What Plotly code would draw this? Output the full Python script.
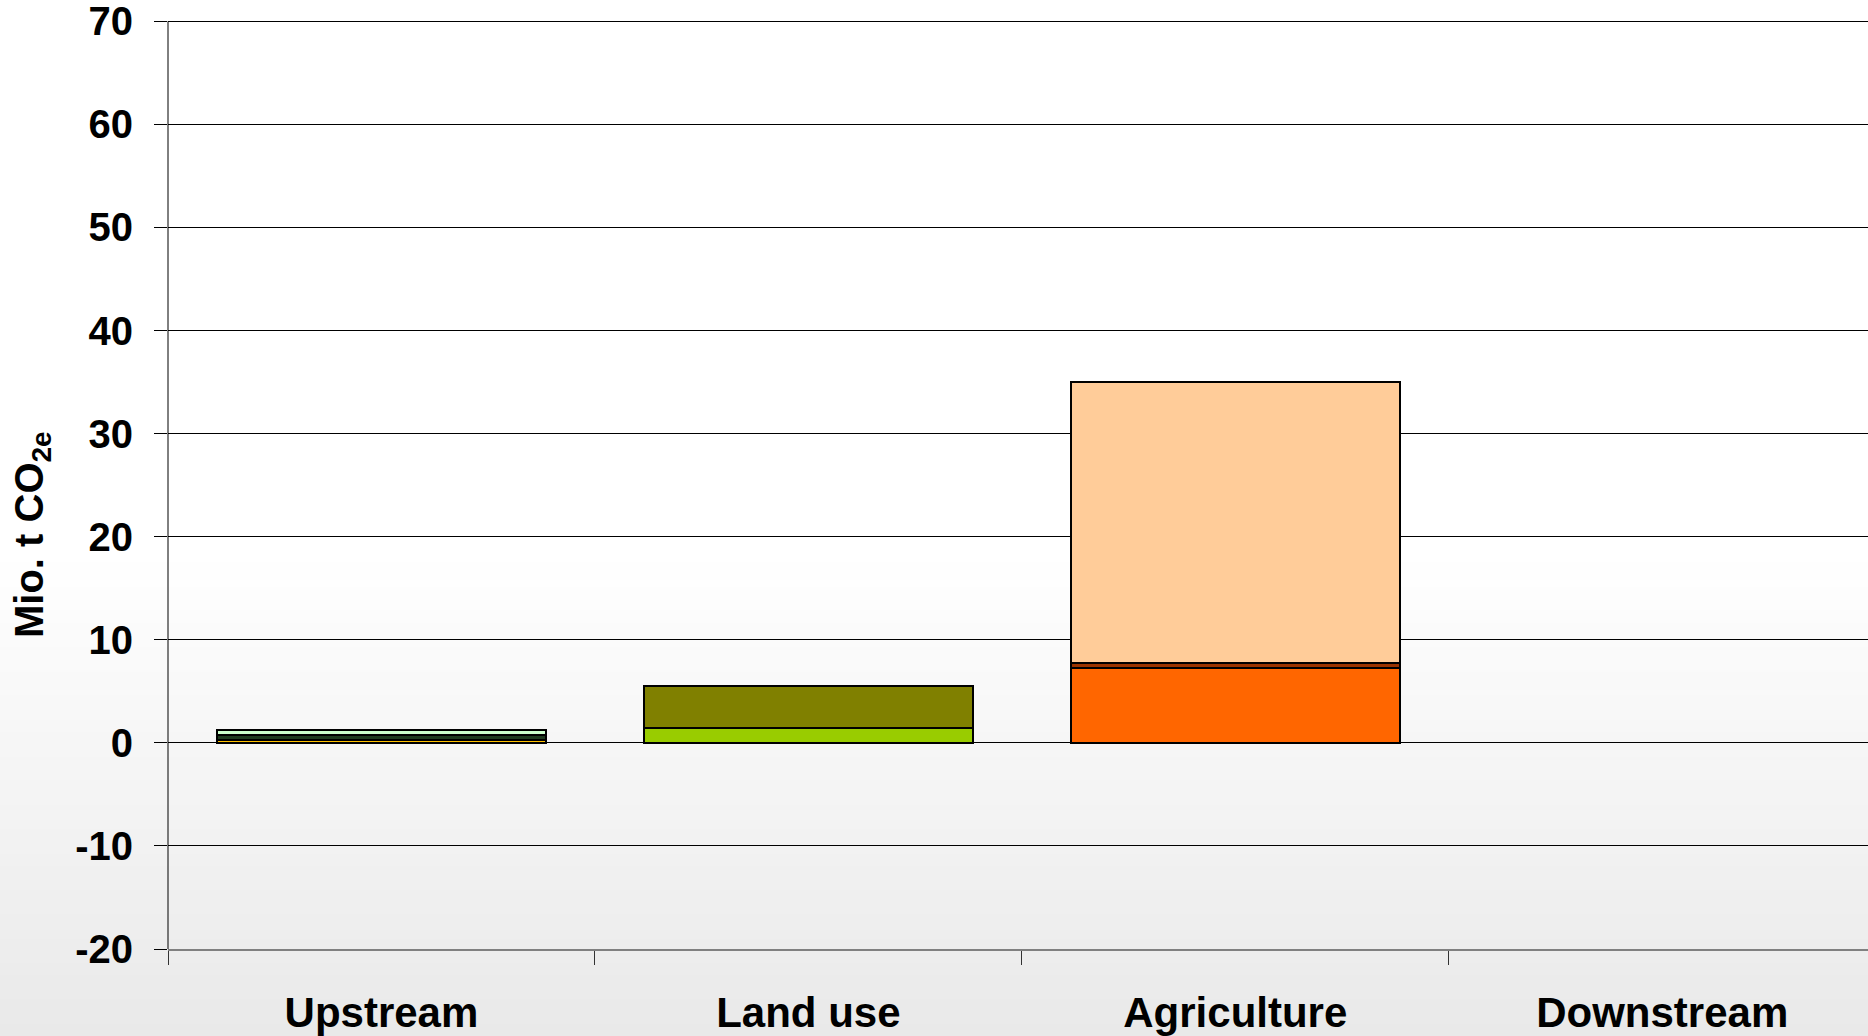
import plotly.graph_objects as go

categories = ["Upstream", "Land use", "Agriculture", "Downstream"]

# Stacked emission segments (Mio. t CO2e), listed bottom to top
upstream_gold = [0.30, None, None, None]
upstream_dark = [0.42, None, None, None]
upstream_light = [0.53, None, None, None]
landuse_lime = [None, 1.45, None, None]
landuse_olive = [None, 4.05, None, None]
agri_orange = [None, None, 7.25, None]
agri_brown = [None, None, 0.45, None]
agri_peach = [None, None, 27.30, None]

y_ticks = [-20, -10, 0, 10, 20, 30, 40, 50, 60, 70]
y_tick_labels = ["-20", "-10", "0", "10", "20", "30", "40", "50", "60", "70"]

segments = [
    ("Upstream 1", upstream_gold, "#FFC000"),
    ("Upstream 2", upstream_dark, "#1E3A1E"),
    ("Upstream 3", upstream_light, "#CCFFCC"),
    ("Land use 1", landuse_lime, "#99CC00"),
    ("Land use 2", landuse_olive, "#808000"),
    ("Agriculture 1", agri_orange, "#FF6600"),
    ("Agriculture 2", agri_brown, "#993300"),
    ("Agriculture 3", agri_peach, "#FFCC99"),
]

FONT = "Liberation Sans, Arial, sans-serif"
W, H = 1868, 1036
M_L, M_R, M_T, M_B = 168, 0, 10, 87
Y_MIN, Y_MAX = -20, 71.1

fig = go.Figure()
for name, vals, color in segments:
    fig.add_trace(go.Bar(
        x=categories, y=vals, name=name, width=0.77,
        marker=dict(color=color, line=dict(color="#000000", width=2)),
        showlegend=False,
    ))

# soft vertical background gradient: white on top, light grey at the bottom
plot_h = H - M_T - M_B
plot_w = W - M_L - M_R
def py_to_paper(py):
    return (H - M_B - py) / plot_h
start_px, n_bands = 550, 40
band = (H - start_px) / n_bands
shapes = []
for i in range(n_bands):
    top = start_px + i * band
    bot = top + band + 1
    frac = (i + 0.5) / n_bands
    g = round(255 - 22 * frac)
    shapes.append(dict(
        type="rect", xref="paper", yref="paper", layer="below",
        x0=-M_L / plot_w - 0.01, x1=1.01,
        y0=py_to_paper(bot), y1=py_to_paper(top),
        fillcolor=f"rgb({g},{g},{g})", line=dict(width=0),
    ))

# value axis line, running from the lowest to the highest tick
shapes.append(dict(
    type="line", xref="paper", yref="y", x0=0, x1=0,
    y0=y_ticks[0], y1=y_ticks[-1],
    line=dict(color="#000000", width=1), layer="above",
))

fig.update_layout(
    width=W, height=H,
    margin=dict(l=M_L, r=M_R, t=M_T, b=M_B, pad=0, autoexpand=False),
    paper_bgcolor="#FFFFFF", plot_bgcolor="rgba(0,0,0,0)",
    barmode="stack",
    shapes=shapes,
    font=dict(family=FONT, color="#000000"),
    xaxis=dict(
        type="category", categoryorder="array", categoryarray=categories,
        range=[-0.5, 3.482], automargin=False,
        tickson="boundaries", ticks="outside", ticklen=14, tickcolor="#333333",
        tickwidth=1,
        showline=True, linecolor="#808080", linewidth=2,
        showgrid=False,
        tickfont=dict(family=FONT, size=42, weight="bold", color="#000000"),
        ticklabelstandoff=26, ticklabeloverflow="allow",
    ),
    yaxis=dict(
        range=[Y_MIN, Y_MAX], tickvals=y_ticks, ticktext=y_tick_labels,
        automargin=False,
        ticks="outside", ticklen=13, tickcolor="#000000", tickwidth=1,
        showgrid=True, gridcolor="#000000", gridwidth=1,
        zeroline=True, zerolinecolor="#000000", zerolinewidth=1,
        showline=False,
        tickfont=dict(family=FONT, size=40, weight="bold", color="#000000"),
        ticklabelstandoff=13, ticklabeloverflow="allow",
    ),
    annotations=[dict(
        text="Mio. t CO<sub>2e</sub>", textangle=-90,
        xref="paper", yref="paper",
        x=(32 - M_L) / plot_w, y=py_to_paper(535),
        xanchor="center", yanchor="middle", showarrow=False,
        font=dict(family=FONT, size=40, weight="bold", color="#000000"),
    )],
)

fig.write_html("out.html")
